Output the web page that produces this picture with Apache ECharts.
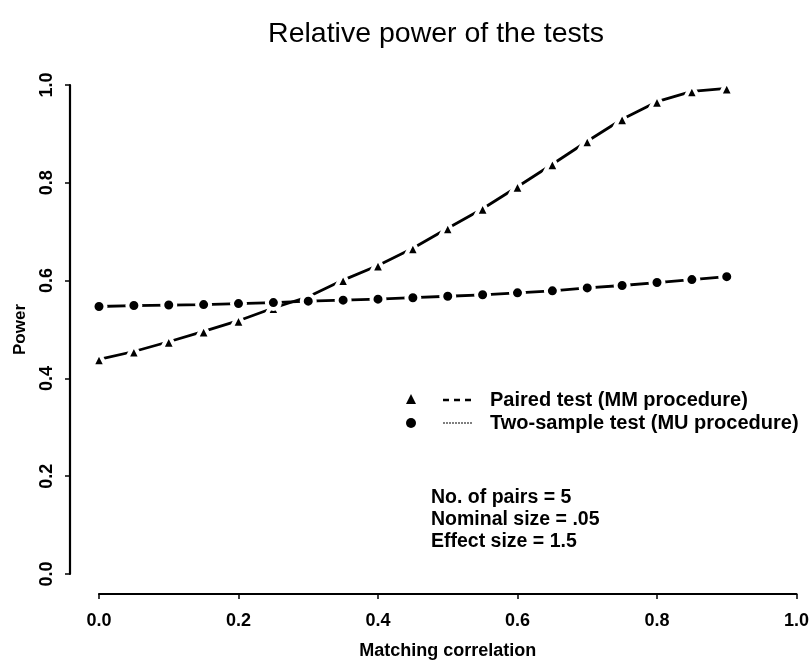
<!DOCTYPE html>
<html>
<head>
<meta charset="utf-8">
<script src="https://cdn.jsdelivr.net/npm/echarts@6/dist/echarts.min.js"></script>
<style>html,body{margin:0;padding:0;background:#fff}#c{width:812px;height:665px}</style>
</head>
<body>
<div id="c"></div>
<script>
// Data
var correlation = [0, 0.05, 0.1, 0.15, 0.2, 0.25, 0.3, 0.35, 0.4, 0.45, 0.5, 0.55, 0.6, 0.65, 0.7, 0.75, 0.8, 0.85, 0.9];
var pairedPower = [0.439, 0.455, 0.475, 0.496, 0.518, 0.544, 0.567, 0.601, 0.631, 0.666, 0.707, 0.747, 0.792, 0.838, 0.885, 0.930, 0.966, 0.987, 0.993];
var twoSamplePower = [0.547, 0.549, 0.550, 0.551, 0.553, 0.555, 0.558, 0.560, 0.562, 0.565, 0.568, 0.571, 0.575, 0.579, 0.585, 0.590, 0.596, 0.602, 0.608];
var axisTicks = [0, 0.2, 0.4, 0.6, 0.8, 1.0];
var seriesNames = ['Paired test (MM procedure)', 'Two-sample test (MU procedure)'];
var notes = ['No. of pairs = 5', 'Nominal size = .05', 'Effect size = 1.5'];
var titleText = 'Relative power of the tests';

function pairs(xs, ys) { return xs.map(function (x, i) { return [x, ys[i]]; }); }

var FONT = '"Liberation Sans", Arial, Helvetica, sans-serif';
var chart = echarts.init(document.getElementById('c'), null, { renderer: 'canvas' });

var g = [];
// legend row 1: triangle, dashed line, text
g.push({ type: 'polygon', shape: { points: [[411, 394], [406, 404], [416, 404]] }, style: { fill: '#000' } });
g.push({ type: 'line', shape: { x1: 443, y1: 400, x2: 472, y2: 400 }, style: { stroke: '#000', lineWidth: 2.5, lineDash: [6, 5] } });
g.push({ type: 'text', x: 490, y: 400, style: { text: seriesNames[0], font: 'bold 20px ' + FONT, fill: '#000', textVerticalAlign: 'middle' } });
// legend row 2: circle, fine line, text
g.push({ type: 'circle', shape: { cx: 411, cy: 423, r: 5 }, style: { fill: '#000' } });
g.push({ type: 'line', shape: { x1: 443, y1: 423, x2: 472, y2: 423 }, style: { stroke: '#000', lineWidth: 1.2, lineDash: [2, 1] } });
g.push({ type: 'text', x: 490, y: 423, style: { text: seriesNames[1], font: 'bold 20px ' + FONT, fill: '#000', textVerticalAlign: 'middle' } });

notes.forEach(function (t, i) {
  g.push({ type: 'text', x: 431, y: 498 + i * 22, style: { text: t, font: 'bold 19.5px ' + FONT, fill: '#000', textVerticalAlign: 'middle' } });
});
g.push({ type: 'text', x: 436, y: 34, style: { text: titleText, font: '28.5px ' + FONT, fill: '#000', textAlign: 'center', textVerticalAlign: 'middle' } });

var option = {
  backgroundColor: '#fff',
  animation: false,
  grid: { left: 99, right: 14, top: 85, bottom: 83, containLabel: false },
  xAxis: {
    type: 'value', min: axisTicks[0], max: axisTicks[axisTicks.length - 1], interval: 0.2,
    offset: 20,
    name: 'Matching correlation', nameLocation: 'middle', nameGap: 48,
    nameTextStyle: { fontFamily: FONT, fontWeight: 'bold', fontSize: 18, color: '#000' },
    axisLine: { show: true, onZero: false, lineStyle: { color: '#000', width: 2.2 } },
    axisTick: { show: true, length: 5, lineStyle: { color: '#000', width: 1.5 } },
    axisLabel: { fontFamily: FONT, fontWeight: 'bold', fontSize: 18, color: '#000', margin: 18,
      formatter: function (v) { return v.toFixed(1); } },
    splitLine: { show: false }
  },
  yAxis: {
    type: 'value', min: axisTicks[0], max: axisTicks[axisTicks.length - 1], interval: 0.2,
    offset: 29,
    name: 'Power', nameLocation: 'middle', nameGap: 41, nameRotate: 90,
    nameTextStyle: { fontFamily: FONT, fontWeight: 'bold', fontSize: 17, color: '#000' },
    axisLine: { show: true, onZero: false, lineStyle: { color: '#000', width: 2.2 } },
    axisTick: { show: true, length: 5, lineStyle: { color: '#000', width: 1.5 } },
    axisLabel: { fontFamily: FONT, fontWeight: 'bold', fontSize: 18, color: '#000', margin: 14, rotate: 90,
      formatter: function (v) { return v.toFixed(1); } },
    splitLine: { show: false }
  },
  series: [
    {
      name: seriesNames[0], type: 'line', data: pairs(correlation, pairedPower),
      symbol: 'triangle', symbolSize: 14, showAllSymbol: true,
      lineStyle: { color: '#000', width: 2.8 },
      itemStyle: { color: '#000', borderColor: '#fff', borderWidth: 4 },
      z: 2
    },
    {
      name: seriesNames[1], type: 'line', data: pairs(correlation, twoSamplePower),
      symbol: 'circle', symbolSize: 13, showAllSymbol: true,
      lineStyle: { color: '#000', width: 2.8 },
      itemStyle: { color: '#000', borderColor: '#fff', borderWidth: 4 },
      z: 3
    }
  ],
  graphic: g
};
chart.setOption(option);
</script>
</body>
</html>
